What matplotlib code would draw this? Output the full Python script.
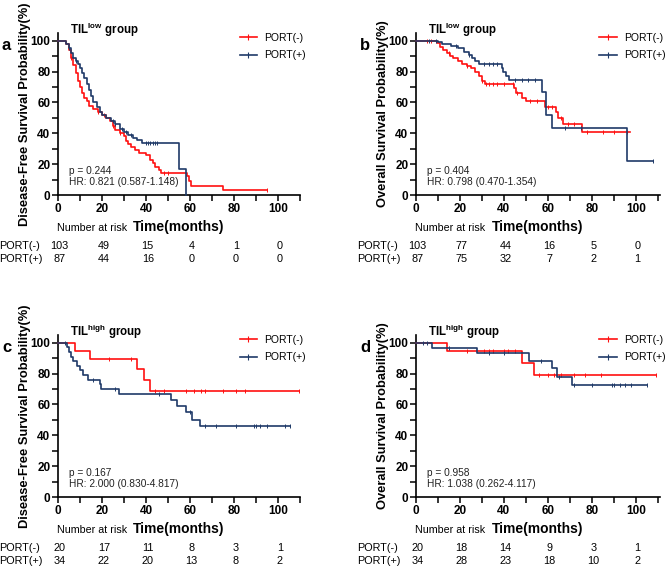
import numpy as np
import matplotlib.pyplot as plt
from matplotlib.lines import Line2D
from matplotlib import transforms

plt.rcParams['font.family'] = ['Liberation Sans', 'DejaVu Sans']
plt.rcParams['mathtext.fontset'] = 'custom'
plt.rcParams['mathtext.rm'] = 'Liberation Sans:bold'
plt.rcParams['mathtext.bf'] = 'Liberation Sans:bold'

RED = '#ff1010'
BLUE = '#1f3a68'

# ---- panel a: DFS, TIL low ----
a_neg_t = [0, 3.5, 5, 6, 7, 8, 9, 10, 11, 12, 13, 14, 16, 18, 20, 22, 23.5, 25, 26, 28,
           30, 31, 32, 33, 35, 37, 40, 42, 43, 44, 46, 47, 58.5, 59.5, 60.5, 75.2]
a_neg_s = [100, 98, 94, 89, 84, 79, 74, 70, 66, 63, 61, 58, 56, 54, 52, 50, 48, 45, 42, 40,
           38, 35, 33, 31, 29, 27, 26, 23, 21, 18, 16, 14.5, 12, 9, 6, 3.3]
a_neg_end = 95
a_neg_cens = [6, 18, 21, 25, 28, 48, 50, 95]
a_pos_t = [0, 3.5, 5, 6, 7, 8, 9, 10, 11, 12, 13, 14, 15, 16, 17.5, 19, 20, 22, 24, 26,
           28, 30, 32, 34, 36, 38, 55, 58]
a_pos_s = [100, 98, 95, 92, 89, 87, 85, 82, 79, 76, 72, 68, 64, 60, 57, 54, 52, 50, 48, 46,
           43, 41, 39, 37, 35.5, 34, 17, 0]
a_pos_end = 58
a_pos_cens = [5, 8, 25, 26, 29, 31, 33, 40, 41, 42, 43, 44, 45]

# ---- panel b: OS, TIL low ----
b_neg_t = [0, 9.5, 11, 12.5, 14, 15.5, 17, 19, 21, 23, 25, 27, 28.5, 30, 31.5, 44.5, 45.5,
           48, 50, 58.6, 63.6, 64.4, 67, 75.3]
b_neg_s = [100, 98.5, 96, 94, 92, 90, 88.5, 87, 85, 83.5, 82, 80, 77, 74, 72, 69.5, 66,
           63, 61, 57.3, 53.5, 49.8, 46.1, 41.1]
b_neg_end = 97.3
b_neg_cens = [5, 7, 15, 23, 30, 32, 33, 35, 37, 40, 44, 46, 52, 55, 60, 62, 66, 69, 72,
              78, 85, 90, 96]
b_pos_t = [0, 10, 12, 16, 19, 22, 24, 25.5, 27, 28.5, 39, 39.8, 41, 42.5, 57.1, 59, 62, 95.8]
b_pos_s = [100, 99, 98, 96.5, 95, 93, 91, 89, 87, 84.8, 82.5, 80, 77, 74.7, 66.7, 52,
           43.7, 22.3]
b_pos_end = 107.6
b_pos_cens = [6, 9, 18, 24, 31, 33, 35, 37, 45, 48, 51, 54, 68, 75, 107.6]

# ---- panel c: DFS, TIL high ----
c_neg_t = [0, 7.5, 14.6, 35.9, 39, 42]
c_neg_s = [100, 94.4, 89.5, 83, 76, 69]
c_neg_end = 109.5
c_neg_cens = [23, 33, 44, 48, 58, 62, 65, 67, 75, 81, 85, 109.5]
c_pos_t = [0, 4, 5, 6, 7, 8.5, 10, 11.5, 13.8, 18.9, 19.5, 27.5, 51.5, 54, 58, 61, 64.4]
c_pos_s = [100, 97, 94, 91, 88, 85, 82, 79, 76, 73, 70, 67, 63, 59, 55, 50, 46]
c_pos_end = 105.5
c_pos_cens = [3, 16, 26, 46, 60, 67, 72, 81, 89, 90, 92, 95, 103, 105.5]

# ---- panel d: OS, TIL high ----
d_neg_t = [0, 14.2, 48, 53.6]
d_neg_s = [100, 94.4, 86.7, 79.1]
d_neg_end = 109
d_neg_cens = [23, 31, 33, 35, 40, 42, 45, 56, 60, 63, 66, 72, 77, 84, 109]
d_pos_t = [0, 7.1, 27.6, 51.5, 62, 64, 70.8]
d_pos_s = [100, 96.6, 93.3, 88.4, 83.7, 78, 72.3]
d_pos_end = 104.9
d_pos_cens = [3, 5, 15, 33, 40, 57, 65, 72, 80, 89, 90, 93, 95, 98, 104.9]

risk_times = [0, 20, 40, 60, 80, 100]
a_risk_neg = [103, 49, 15, 4, 1, 0]
a_risk_pos = [87, 44, 16, 0, 0, 0]
b_risk_neg = [103, 77, 44, 16, 5, 0]
b_risk_pos = [87, 75, 32, 7, 2, 1]
c_risk_neg = [20, 17, 11, 8, 3, 1]
c_risk_pos = [34, 22, 20, 13, 8, 2]
d_risk_neg = [20, 18, 14, 9, 3, 1]
d_risk_pos = [34, 28, 23, 18, 10, 2]

panels = [
    dict(letter='a', til='low', ylabel='Disease-Free Survival Probability(%)',
         neg=(a_neg_t, a_neg_s, a_neg_end, a_neg_cens),
         pos=(a_pos_t, a_pos_s, a_pos_end, a_pos_cens),
         p='p = 0.244', hr='HR: 0.821 (0.587-1.148)',
         risk=(a_risk_neg, a_risk_pos), xmax=110,
         rect=[58, 33, 300, 195]),
    dict(letter='b', til='low', ylabel='Overall Survival Probability(%)',
         neg=(b_neg_t, b_neg_s, b_neg_end, b_neg_cens),
         pos=(b_pos_t, b_pos_s, b_pos_end, b_pos_cens),
         p='p = 0.404', hr='HR: 0.798 (0.470-1.354)',
         risk=(b_risk_neg, b_risk_pos), xmax=111,
         rect=[416, 33, 660, 195]),
    dict(letter='c', til='high', ylabel='Disease-Free Survival Probability(%)',
         neg=(c_neg_t, c_neg_s, c_neg_end, c_neg_cens),
         pos=(c_pos_t, c_pos_s, c_pos_end, c_pos_cens),
         p='p = 0.167', hr='HR: 2.000 (0.830-4.817)',
         risk=(c_risk_neg, c_risk_pos), xmax=110,
         rect=[58, 335, 300, 497]),
    dict(letter='d', til='high', ylabel='Overall Survival Probability(%)',
         neg=(d_neg_t, d_neg_s, d_neg_end, d_neg_cens),
         pos=(d_pos_t, d_pos_s, d_pos_end, d_pos_cens),
         p='p = 0.958', hr='HR: 1.038 (0.262-4.117)',
         risk=(d_risk_neg, d_risk_pos), xmax=111,
         rect=[416, 335, 660, 497]),
]

W, H = 669, 567
fig = plt.figure(figsize=(W / 100, H / 100), dpi=100)


def km_curve(ax, t, s, end, cens, color):
    tt = list(t) + [end]
    ss = list(s) + [s[-1]]
    ax.step(tt, ss, where='post', color=color, lw=1.2, clip_on=False, zorder=3)
    idx = np.searchsorted(t, cens, side='right') - 1
    cy = np.array(s)[idx]
    ax.plot(cens, cy, ls='none', marker='|', ms=3.5, mew=0.7, color=color,
            clip_on=False, zorder=3)


for pan in panels:
    x0, y0, x1, y1 = pan['rect']
    ax = fig.add_axes([x0 / W, 1 - y1 / H, (x1 - x0) / W, (y1 - y0) / H])
    km_curve(ax, *pan['neg'], RED)
    km_curve(ax, *pan['pos'], BLUE)

    ax.set_xlim(0, pan['xmax'])
    ax.set_ylim(0, 105)
    ax.spines['top'].set_visible(False)
    ax.spines['right'].set_visible(False)
    for sp in ['left', 'bottom']:
        ax.spines[sp].set_linewidth(1.2)
    ax.set_xticks(range(0, 101, 20))
    ax.set_xticks(range(10, pan['xmax'] + 1, 10), minor=True)
    ax.set_yticks(range(0, 101, 20))
    ax.set_yticks(range(10, 101, 10), minor=True)
    ax.tick_params(which='both', length=4, width=1.1, pad=1.5)
    for lab in ax.get_xticklabels() + ax.get_yticklabels():
        lab.set_fontweight('bold')
        lab.set_fontsize(8.5)

    ax.set_ylabel(pan['ylabel'], fontsize=9.3, fontweight='bold')
    ax.yaxis.set_label_coords(-0.112, 0.5)
    ax.text(0.5, -0.2, 'Time(months)', transform=ax.transAxes, ha='center',
            va='center', fontsize=10, fontweight='bold')

    ax.text(0.05, 1.02, r'$\mathbf{TIL^{%s}\ group}$' % pan['til'],
            transform=ax.transAxes, ha='left', va='center', fontsize=8.3)
    fig.text((x0 - 56) / W, 1 - (y0 + 12) / H, pan['letter'], fontsize=12,
             fontweight='bold', ha='left', va='center')

    ax.text(0.045, 0.15, pan['p'], transform=ax.transAxes, fontsize=7.3,
            va='center', color='#222222')
    ax.text(0.045, 0.08, pan['hr'], transform=ax.transAxes, fontsize=7.3,
            va='center', color='#222222')

    handles = [Line2D([], [], color=RED, lw=1.2, marker='|', ms=5, mew=0.8),
               Line2D([], [], color=BLUE, lw=1.2, marker='|', ms=5, mew=0.8)]
    ax.legend(handles, ['PORT(-)', 'PORT(+)'], loc='upper left',
              bbox_to_anchor=(0.75, 1.0), frameon=False, fontsize=7.5,
              handlelength=1.7, handletextpad=0.7, labelspacing=0.7,
              borderpad=0, borderaxespad=0, numpoints=1)

    # number at risk table
    ax.text(-0.005, -0.205, 'Number at risk', transform=ax.transAxes,
            fontsize=7.7, ha='left', va='center')
    ax.text(-0.243, -0.315, 'PORT(-)', transform=ax.transAxes, fontsize=7.8,
            ha='left', va='center')
    ax.text(-0.243, -0.395, 'PORT(+)', transform=ax.transAxes, fontsize=7.8,
            ha='left', va='center')
    blend = transforms.blended_transform_factory(ax.transData, ax.transAxes)
    for tx, nn, np_ in zip(risk_times, pan['risk'][0], pan['risk'][1]):
        ax.text(tx + 0.8, -0.315, str(nn), transform=blend, fontsize=7.8,
                ha='center', va='center')
        ax.text(tx + 0.8, -0.395, str(np_), transform=blend, fontsize=7.8,
                ha='center', va='center')

fig.savefig('out.png', dpi=100)
